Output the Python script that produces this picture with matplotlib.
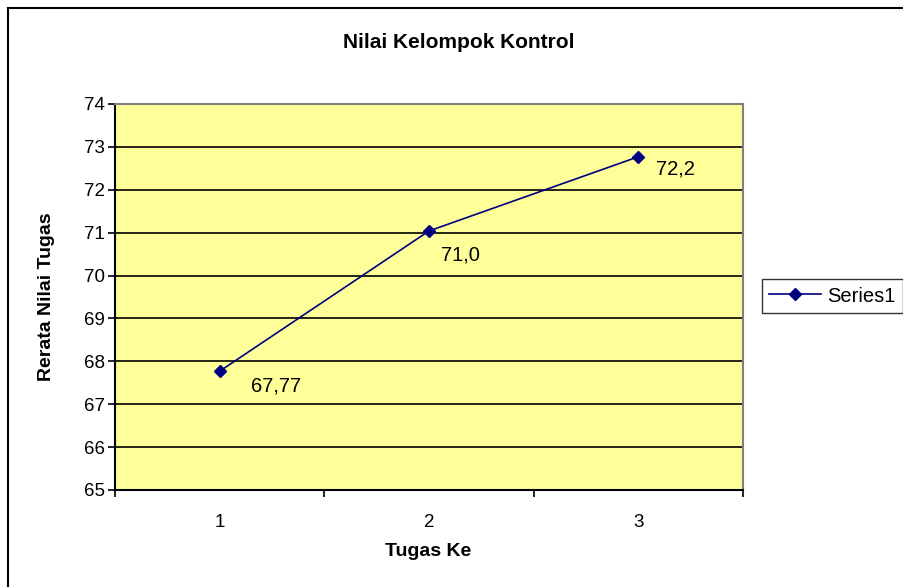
import matplotlib
matplotlib.use("Agg")
import matplotlib.pyplot as plt
from matplotlib.patches import Rectangle

categories = [1, 2, 3]
values = [67.77, 71.04, 72.77]
labels = ["67,77", "71,0", "72,2"]
label_offsets = [(31, -15), (12, -24), (18, -12)]
yticks = [65, 66, 67, 68, 69, 70, 71, 72, 73, 74]

plt.rcParams['font.family'] = ['Liberation Sans', 'DejaVu Sans']

W, H = 904, 587
fig = plt.figure(figsize=(W / 100, H / 100), dpi=100)
fig.patch.set_facecolor('white')

# outer chart border (right and bottom run past the image edge)
fig.patches.append(Rectangle((8 / W, -0.05), 1.05, (H - 8) / H + 0.05,
                             transform=fig.transFigure, fill=False,
                             edgecolor='black', linewidth=1.5))

ax = fig.add_axes([115 / W, (H - 490) / H, (743 - 115) / W, (490 - 104) / H])
ax.set_facecolor('#FFFF99')

x = list(range(len(categories)))
ax.plot(x, values, color='#000080', linewidth=1.2, marker='D', markersize=6.5,
        markerfacecolor='#000080', markeredgecolor='#000080', label='Series1', zorder=5)

for xi, v, lab, off in zip(x, values, labels, label_offsets):
    ax.annotate(lab, (xi, v), xytext=off, textcoords='offset pixels',
                ha='left', va='center', fontsize=14.5, color='black')

ax.set_xlim(-0.5, len(categories) - 0.5)
ax.set_ylim(min(yticks), max(yticks))
ax.set_yticks(yticks)
ax.set_yticklabels([str(t) for t in yticks], fontsize=13.5)
ax.set_xticks(x)
ax.set_xticklabels([str(c) for c in categories], fontsize=13.5)
ax.set_xticks([i - 0.5 for i in range(len(categories) + 1)], minor=True)
ax.tick_params(axis='x', which='major', length=0, pad=17)
ax.tick_params(axis='x', which='minor', length=5, width=1.2, direction='out')
ax.tick_params(axis='y', length=5, width=1.2, direction='out', pad=2)

ax.yaxis.grid(True, color='black', linewidth=1.2)
ax.set_axisbelow(True)
for s in ['left', 'bottom']:
    ax.spines[s].set_linewidth(1.5)
    ax.spines[s].set_color('black')
for s in ['top', 'right']:
    ax.spines[s].set_linewidth(1.5)
    ax.spines[s].set_color('#808080')

fig.text(459 / W, (H - 42) / H, 'Nilai Kelompok Kontrol', ha='center', va='center',
         fontsize=15, fontweight='bold')
fig.text(428 / W, (H - 552) / H, 'Tugas Ke', ha='center', va='center',
         fontsize=14, fontweight='bold')
fig.text(47 / W, (H - 297) / H, 'Rerata Nilai Tugas', ha='center', va='center',
         rotation=90, fontsize=14, fontweight='bold')

leg = ax.legend(loc='center left', bbox_to_anchor=(762 / W, (H - 296) / H),
                bbox_transform=fig.transFigure, frameon=True, fancybox=False,
                edgecolor='black', fontsize=14.5, handlelength=2.6, borderpad=0.35,
                handletextpad=0.3, borderaxespad=0)
leg.get_frame().set_linewidth(1.0)

fig.savefig('out.png', dpi=100)
